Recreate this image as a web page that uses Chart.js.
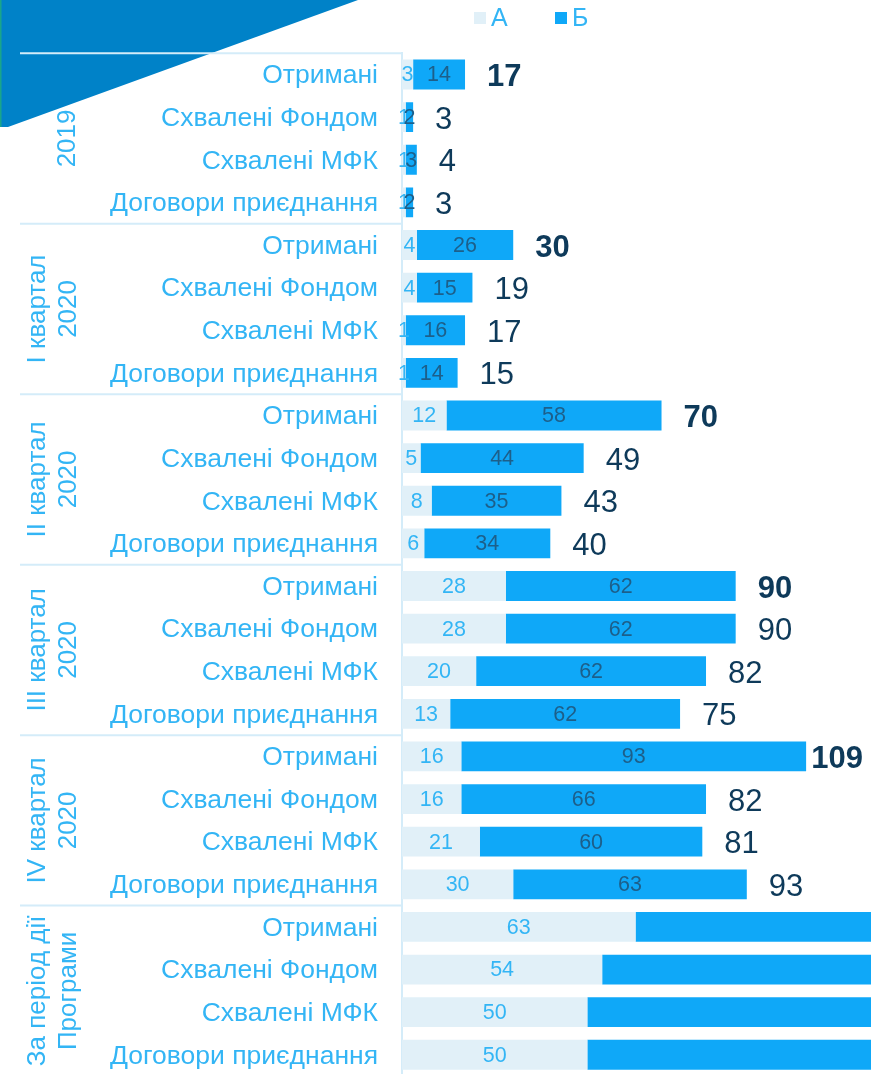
<!DOCTYPE html>
<html><head><meta charset="utf-8">
<script src="https://cdn.jsdelivr.net/npm/chart.js@4"></script>
<style>html,body{margin:0;padding:0;overflow:hidden;background:#fff}</style>
</head><body>
<canvas id="c" width="871" height="1116"></canvas>
<script>
const groups = [['2019'], ['I квартал','2020'], ['II квартал','2020'], ['III квартал','2020'], ['IV квартал','2020'], ['За період дії','Програми']];
const subcats = ['Отримані','Схвалені Фондом','Схвалені МФК','Договори приєднання'];
const seriesNames = ['А','Б'];
const valuesA = [3,1,1,1, 4,4,1,1, 12,5,8,6, 28,28,20,13, 16,16,21,30, 63,54,50,50];
const valuesB = [14,2,3,2, 26,15,16,14, 58,44,35,34, 62,62,62,62, 93,66,60,63, 253,189,176,175];

const FONT = '"Liberation Sans", Arial, sans-serif';
const LIGHT = '#33b5f5';
const COL_A = '#e1f0f8';
const COL_B = '#0fa8f8';
const DARK = '#0e3a5a';
const LINE = '#d4ecf9';

const categories = groups.flatMap(() => subcats);

const decor = {
  id: 'decor',
  beforeDraw(chart) {
    const ctx = chart.ctx;
    ctx.save();
    ctx.fillStyle = '#0082c8';
    ctx.beginPath();
    ctx.moveTo(0, 0); ctx.lineTo(358, 0); ctx.lineTo(8, 127); ctx.lineTo(0, 127); ctx.closePath();
    ctx.fill();
    ctx.fillStyle = '#1aa58a';
    ctx.fillRect(0, 0, 1.5, 127);
    ctx.restore();
  }
};

const groupPlugin = {
  id: 'groupPlugin',
  afterDraw(chart) {
    const ctx = chart.ctx, ys = chart.scales.y, area = chart.chartArea;
    const rowH = ys.getPixelForValue(1) - ys.getPixelForValue(0);
    ctx.save();
    ctx.strokeStyle = LINE; ctx.lineWidth = 2;
    groups.forEach((g, gi) => {
      const top = ys.getPixelForValue(gi * 4) - rowH / 2;
      ctx.beginPath(); ctx.moveTo(20, top); ctx.lineTo(area.left, top); ctx.stroke();
      const cy = (ys.getPixelForValue(gi * 4) + ys.getPixelForValue(gi * 4 + 3)) / 2;
      ctx.fillStyle = LIGHT;
      ctx.font = '26px ' + FONT;
      ctx.textAlign = 'center'; ctx.textBaseline = 'middle';
      const xs = g.length === 1 ? [68] : [38, 69];
      g.forEach((line, li) => {
        ctx.save();
        ctx.translate(xs[li], cy);
        ctx.rotate(-Math.PI / 2);
        ctx.fillText(line, 0, 0);
        ctx.restore();
      });
    });
    ctx.restore();
  }
};

const valuePlugin = {
  id: 'valuePlugin',
  afterDatasetsDraw(chart) {
    const ctx = chart.ctx;
    const mA = chart.getDatasetMeta(0), mB = chart.getDatasetMeta(1);
    ctx.save();
    ctx.textAlign = 'center'; ctx.textBaseline = 'middle';
    ctx.font = '21.5px ' + FONT;
    ctx.fillStyle = LIGHT;
    mA.data.forEach((bar, i) => {
      const p = bar.getProps(['x', 'base', 'y'], true);
      ctx.fillText(String(valuesA[i]), (p.x + p.base) / 2, p.y + 1);
    });
    ctx.fillStyle = '#1d5f8a';
    mB.data.forEach((bar, i) => {
      const p = bar.getProps(['x', 'base', 'y'], true);
      ctx.fillText(String(valuesB[i]), (p.x + p.base) / 2, p.y + 1);
    });
    ctx.textAlign = 'left';
    ctx.fillStyle = DARK;
    mB.data.forEach((bar, i) => {
      const p = bar.getProps(['x', 'y'], true);
      if (p.x > chart.width) return;
      const t = String(valuesA[i] + valuesB[i]);
      ctx.font = (i % 4 === 0 ? 'bold ' : '') + '31px ' + FONT;
      const w = ctx.measureText(t).width;
      let tx = p.x + 22;
      if (tx + w > 863) tx = 863 - w;
      ctx.fillText(t, tx, p.y + 3);
    });
    ctx.restore();
  }
};

const legendPlugin = {
  id: 'legendPlugin',
  afterDraw(chart) {
    const ctx = chart.ctx;
    ctx.save();
    ctx.font = '25px ' + FONT;
    ctx.textBaseline = 'middle'; ctx.textAlign = 'left';
    const xs = [474, 555];
    chart.data.datasets.forEach((ds, i) => {
      ctx.fillStyle = ds.backgroundColor;
      ctx.fillRect(xs[i], 12, 12, 12);
      ctx.fillStyle = LIGHT;
      ctx.fillText(ds.label, xs[i] + 17, 19);
    });
    ctx.restore();
  }
};

new Chart(document.getElementById('c'), {
  type: 'bar',
  data: {
    labels: categories,
    datasets: [
      { label: seriesNames[0], data: valuesA, backgroundColor: COL_A, borderWidth: 0 },
      { label: seriesNames[1], data: valuesB, backgroundColor: COL_B, borderWidth: 0 }
    ]
  },
  options: {
    indexAxis: 'y',
    responsive: false,
    animation: false,
    events: [],
    layout: { padding: { left: 0, right: 0, top: 53.2, bottom: 2.8 } },
    datasets: { bar: { categoryPercentage: 1, barPercentage: 0.7 } },
    plugins: { legend: { display: false }, tooltip: { enabled: false } },
    scales: {
      x: { stacked: true, display: false, min: 0, max: 126.5 },
      y: {
        stacked: true,
        grid: { display: false, drawTicks: false },
        border: { display: true, color: LINE, width: 2 },
        ticks: { color: LIGHT, font: { family: FONT, size: 26.5 }, padding: 24, autoSkip: false, labelOffset: 1.5 },
        afterFit(scale) { scale.width = 402; }
      }
    }
  },
  plugins: [decor, groupPlugin, valuePlugin, legendPlugin]
});
</script>
</body></html>
